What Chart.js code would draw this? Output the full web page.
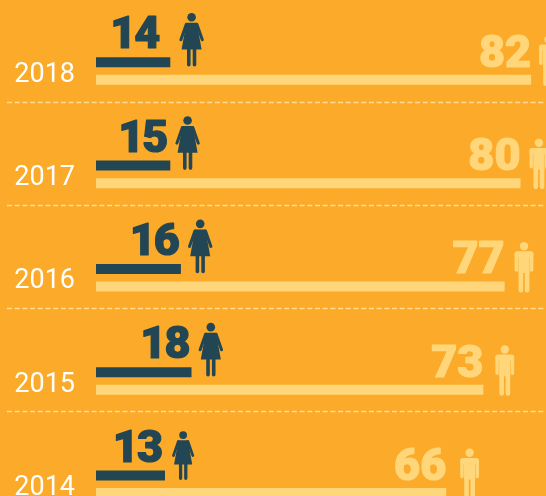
<!DOCTYPE html>
<html>
<head>
<meta charset="utf-8">
<script src="https://cdn.jsdelivr.net/npm/chart.js@4"></script>
<style>
html, body { margin: 0; padding: 0; width: 546px; height: 496px; overflow: hidden; background: #fbab29; }
canvas { display: block; }
</style>
</head>
<body>
<canvas id="myChart" width="546" height="536"></canvas>
<script>
const years = ['2018', '2017', '2016', '2015', '2014'];
// the 2017 women's bar is drawn as long as 14 in the picture, though its label says 15
const womenBars = [14, 14, 16, 18, 13];
const womenLabels = [14, 15, 16, 18, 13];
const men = [82, 80, 77, 73, 66];

const DARK = '#234654';
const LIGHT = '#ffd67a';

// hand tweaks per row, layout only
const womenTextShift = [-12, -4, -3, -3, -4];
const womenIconGap = [21, 9, 10, 10, 11];
const womenIconH = [54, 54, 54, 54, 49];
const menIconGap = [8, 9, 10, 12, 14];

function drawWoman(c, x, bottom, h) {
    const s = h / 54;
    c.save();
    c.translate(x, bottom - h);
    c.scale(s, s);
    c.fillStyle = DARK;
    c.strokeStyle = DARK;
    c.beginPath();
    c.arc(12.3, 4.4, 4.3, 0, Math.PI * 2);
    c.fill();
    c.beginPath();
    c.moveTo(7, 10);
    c.lineTo(17.6, 10);
    c.lineTo(22.3, 36.7);
    c.lineTo(2.3, 36.7);
    c.closePath();
    c.fill();
    c.lineWidth = 3;
    c.lineCap = 'round';
    c.beginPath();
    c.moveTo(7, 11.5);
    c.lineTo(1.6, 27);
    c.moveTo(17.6, 11.5);
    c.lineTo(23, 27);
    c.stroke();
    c.lineWidth = 3.6;
    c.beginPath();
    c.moveTo(9.5, 36);
    c.lineTo(9.5, 52);
    c.moveTo(15.2, 36);
    c.lineTo(15.2, 52);
    c.stroke();
    c.restore();
}

function drawMan(c, x, bottom) {
    c.save();
    c.translate(x, bottom - 50.5);
    c.fillStyle = LIGHT;
    c.strokeStyle = LIGHT;
    c.beginPath();
    c.arc(9.4, 4.2, 4.2, 0, Math.PI * 2);
    c.fill();
    c.beginPath();
    c.roundRect(0, 9.3, 18.8, 6, 2.5);
    c.fill();
    c.fillRect(3.8, 10, 11.2, 21);
    c.lineWidth = 3.4;
    c.lineCap = 'round';
    c.beginPath();
    c.moveTo(1.7, 12);
    c.lineTo(1.7, 28);
    c.moveTo(17.1, 12);
    c.lineTo(17.1, 28);
    c.stroke();
    c.lineWidth = 4.6;
    c.beginPath();
    c.moveTo(6.3, 30);
    c.lineTo(6.3, 48.2);
    c.moveTo(12.5, 30);
    c.lineTo(12.5, 48.2);
    c.stroke();
    c.restore();
}

function heavyText(c, text, x, y, color, spacing) {
    c.letterSpacing = spacing;
    c.fillStyle = color;
    c.strokeStyle = color;
    c.lineWidth = 1.2;
    c.lineJoin = 'round';
    c.fillText(text, x, y);
    c.strokeText(text, x, y);
}

const rowMarks = {
    id: 'rowMarks',
    afterDatasetsDraw(chart) {
        const c = chart.ctx;
        const yScale = chart.scales.y;

        // dashed separators
        c.save();
        c.strokeStyle = 'rgba(255,222,150,0.95)';
        c.lineWidth = 1.5;
        c.setLineDash([5, 2.7]);
        for (let i = 0; i < years.length - 1; i++) {
            const y = Math.round(yScale.getPixelForValue(i + 0.295)) + 0.5;
            c.beginPath();
            c.moveTo(7, y);
            c.lineTo(546, y);
            c.stroke();
        }
        c.restore();

        const womenMeta = chart.getDatasetMeta(0).data;
        const menMeta = chart.getDatasetMeta(1).data;

        c.save();
        c.textAlign = 'right';
        c.textBaseline = 'alphabetic';
        c.font = '900 45px Roboto';
        years.forEach((yr, i) => {
            const w = womenMeta[i];
            const wTop = w.y - w.height / 2;
            const wBottom = w.y + w.height / 2;
            const wRight = w.x + womenTextShift[i];
            heavyText(c, String(womenLabels[i]), wRight, wTop - 9, DARK, '-2px');
            drawWoman(c, wRight + womenIconGap[i], wBottom - 0.5, womenIconH[i]);

            const m = menMeta[i];
            const mTop = m.y - m.height / 2;
            const mBottom = m.y + m.height / 2;
            heavyText(c, String(men[i]), m.x, mTop - 8, LIGHT, '0px');
            drawMan(c, m.x + menIconGap[i], mBottom + 1);
        });
        c.restore();
    }
};

const ctx = document.getElementById('myChart');

new Chart(ctx, {
    type: 'bar',
    data: {
        labels: years,
        datasets: [{
            label: 'Women',
            data: womenBars,
            backgroundColor: DARK,
            borderWidth: 0
        }, {
            label: 'Men',
            data: men,
            backgroundColor: LIGHT,
            borderWidth: 0
        }]
    },
    plugins: [rowMarks],
    options: {
        indexAxis: 'y',
        responsive: false,
        animation: false,
        categoryPercentage: 0.339,
        barPercentage: 0.571,
        layout: { padding: { top: 19.4, left: 0, right: 0, bottom: 0 } },
        plugins: {
            legend: { display: false },
            tooltip: { enabled: false }
        },
        scales: {
            x: {
                display: false,
                min: 0,
                max: 84.8
            },
            y: {
                afterFit(scale) {
                    scale.width = 96;
                    scale.paddingTop = 0;
                    scale.paddingBottom = 0;
                },
                border: { display: false },
                grid: { display: false, drawTicks: false },
                ticks: {
                    color: '#ffffff',
                    crossAlign: 'near',
                    padding: 21,
                    labelOffset: 4,
                    font: { family: 'Roboto', size: 27, weight: '400' }
                }
            }
        }
    }
});
</script>
</body>
</html>
